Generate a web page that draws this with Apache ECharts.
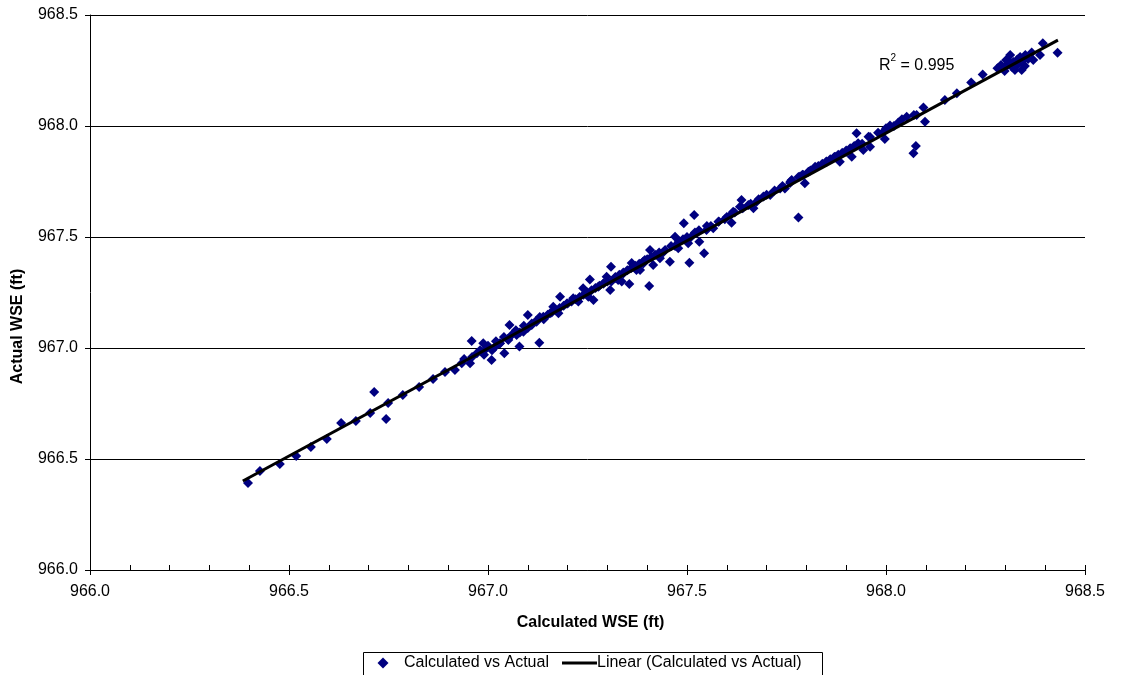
<!doctype html>
<html lang="en">
<head>
<meta charset="UTF-8">
<title>Calculated vs Actual WSE</title>
<script src="https://cdn.jsdelivr.net/npm/echarts@6/dist/echarts.min.js"></script>
<style>
  html, body { margin: 0; padding: 0; background: #fff; }
  #main { width: 1125px; height: 675px; }
</style>
</head>
<body>
<div id="main"></div>
<script type="text/javascript">
// calculated WSE (ft) - x values
var calcWSE = [
  966.397, 966.427, 966.477, 966.518, 966.555, 966.595, 966.631, 966.668, 966.704, 966.714,
  966.744, 966.749, 966.786, 966.827, 966.862, 966.892, 966.917,
  966.934, 966.955, 966.959, 966.972, 966.988, 966.992, 967.009, 967.018, 967.030, 967.041,
  967.051, 967.054, 967.072, 967.079, 967.089, 967.100, 967.110, 967.122, 967.129, 967.139,
  967.156, 967.164, 967.177, 967.181, 967.198, 967.214, 967.227, 967.239, 967.252, 967.256,
  967.265, 967.277, 967.290, 967.298, 967.307, 967.309, 967.319, 967.327, 967.336, 967.340,
  967.355, 967.361, 967.373, 967.382, 967.390, 967.394, 967.405, 967.407, 967.415, 967.432,
  967.445, 967.457, 967.470, 967.478, 967.492, 967.503, 967.506, 967.518, 967.524, 967.531,
  967.543, 967.549, 967.566, 967.579, 967.595, 967.612, 967.616, 967.633, 967.637, 967.654,
  967.667, 967.675, 967.692, 967.709, 967.734, 967.746, 967.759, 967.763, 967.780, 967.784,
  967.792, 967.796, 967.805, 967.822, 967.851, 967.872, 967.884, 967.901, 967.914, 967.926,
  967.930, 967.943, 967.956, 967.960, 967.993, 967.997, 968.010, 968.031, 968.052, 968.069,
  968.075, 968.077, 968.094, 968.098, 968.148, 968.178, 968.214, 968.243, 968.289, 968.298,
  968.312, 968.316, 968.320, 968.332, 968.341, 968.345, 968.357, 968.366, 968.370, 968.387,
  968.394, 968.431, 968.302, 968.324, 968.349, 968.306, 968.337,
  966.940, 966.960, 966.980, 966.990, 967.000, 967.010, 967.020, 967.030, 967.040, 967.050,
  967.060, 967.070, 967.080, 967.090, 967.100, 967.110, 967.120, 967.130, 967.140, 967.150,
  967.160, 967.170, 967.180, 967.190, 967.200, 967.210, 967.220, 967.230, 967.240, 967.250,
  967.260, 967.270, 967.280, 967.290, 967.300, 967.310, 967.320, 967.330, 967.340, 967.350,
  967.360, 967.370, 967.380, 967.390, 967.400, 967.410, 967.420, 967.430, 967.440, 967.460,
  967.470, 967.480, 967.490, 967.500, 967.510, 967.520, 967.530, 967.550, 967.560, 967.580,
  967.600, 967.610, 967.620, 967.640, 967.660, 967.680, 967.700, 967.720, 967.740, 967.760,
  967.780, 967.790, 967.810, 967.830, 967.840, 967.850, 967.860, 967.870, 967.880, 967.890,
  967.900, 967.910, 967.920, 967.940, 967.960, 967.980, 968.000, 968.020, 968.040, 968.070,
  968.280, 968.300, 968.310, 968.330, 968.350
];

// actual WSE (ft) - y values, same order as calcWSE
var actualWSE = [
  966.392, 966.446, 966.477, 966.514, 966.554, 966.590, 966.662, 966.671, 966.707, 966.802,
  966.680, 966.752, 966.788, 966.824, 966.860, 966.892, 966.901,
  966.931, 966.931, 967.032, 966.976, 967.021, 966.991, 966.946, 967.006, 967.021, 966.976,
  967.036, 967.104, 967.059, 967.007, 967.073, 967.149, 967.104, 967.118, 967.024, 967.141,
  967.156, 967.186, 967.156, 967.231, 967.201, 967.224, 967.209, 967.269, 967.231, 967.309,
  967.216, 967.276, 967.291, 967.321, 967.261, 967.366, 967.314, 967.306, 967.299, 967.336,
  967.288, 967.383, 967.351, 967.351, 967.381, 967.396, 967.279, 967.441, 967.374, 967.404,
  967.441, 967.389, 967.501, 967.449, 967.562, 967.472, 967.384, 967.599, 967.517, 967.479,
  967.427, 967.532, 967.539, 967.569, 967.580, 967.564, 967.614, 967.636, 967.667, 967.644,
  967.629, 967.659, 967.682, 967.689, 967.719, 967.719, 967.743, 967.757, 967.588, 967.772,
  967.779, 967.742, 967.794, 967.817, 967.839, 967.862, 967.839, 967.884, 967.862, 967.967,
  967.922, 967.892, 967.952, 967.907, 967.973, 967.941, 968.002, 968.016, 968.042, 967.877,
  967.910, 968.050, 968.083, 968.019, 968.117, 968.147, 968.196, 968.232, 968.275, 968.248,
  968.320, 968.267, 968.288, 968.279, 968.252, 968.297, 968.302, 968.331, 968.297, 968.320,
  968.373, 968.330, 968.297, 968.252, 968.270, 968.275, 968.311,
  966.950, 966.960, 966.990, 966.970, 967.010, 966.990, 967.030, 967.020, 967.050, 967.040,
  967.060, 967.080, 967.070, 967.100, 967.090, 967.110, 967.120, 967.140, 967.130, 967.150,
  967.160, 967.170, 967.180, 967.190, 967.200, 967.210, 967.220, 967.230, 967.240, 967.250,
  967.260, 967.270, 967.280, 967.290, 967.300, 967.300, 967.320, 967.330, 967.340, 967.350,
  967.360, 967.370, 967.380, 967.390, 967.400, 967.410, 967.420, 967.430, 967.430, 967.460,
  967.460, 967.480, 967.490, 967.500, 967.500, 967.520, 967.530, 967.550, 967.550, 967.570,
  967.590, 967.600, 967.610, 967.630, 967.650, 967.670, 967.690, 967.710, 967.730, 967.750,
  967.770, 967.780, 967.800, 967.820, 967.830, 967.840, 967.850, 967.860, 967.870, 967.880,
  967.890, 967.900, 967.910, 967.920, 967.950, 967.970, 967.990, 968.000, 968.030, 968.050,
  968.260, 968.270, 968.290, 968.300, 968.320
];

// linear trend line end points
var trendX = [966.384, 968.432];
var trendY = [966.401, 968.387];

var axisTicks = [966.0, 966.5, 967.0, 967.5, 968.0, 968.5];
var rSquared = '0.995';
var seriesNames = ['Calculated vs Actual', 'Linear (Calculated vs Actual)'];

var points = [];
for (var i = 0; i < calcWSE.length; i++) {
    points.push([calcWSE[i], actualWSE[i]]);
}
var trend = [[trendX[0], trendY[0]], [trendX[1], trendY[1]]];

var fontFamily = '"Liberation Sans", Arial, Helvetica, sans-serif';
var navy = '#000080';
var gridBox = { left: 90, right: 40, top: 15, bottom: 105 };

var myChart = echarts.init(document.getElementById('main'), null, { renderer: 'canvas' });

var option = {
    backgroundColor: '#ffffff',
    animation: false,
    textStyle: { fontFamily: fontFamily, color: '#000' },
    grid: [
        { left: gridBox.left, right: gridBox.right, top: gridBox.top, bottom: gridBox.bottom },
        { left: gridBox.left, right: gridBox.right, top: gridBox.top, bottom: gridBox.bottom }
    ],
    xAxis: [
        {
            type: 'value',
            gridIndex: 0,
            min: axisTicks[0],
            max: axisTicks[axisTicks.length - 1],
            interval: 0.5,
            name: 'Calculated WSE (ft)',
            nameLocation: 'middle',
            nameGap: 45,
            nameTextStyle: { fontFamily: fontFamily, fontSize: 16, fontWeight: 'bold', color: '#000', padding: [0, 0, 0, 6] },
            axisLine: { show: true, onZero: false, lineStyle: { color: '#000', width: 1 } },
            axisTick: { show: true, inside: false, length: 5, lineStyle: { color: '#000' } },
            axisLabel: {
                fontSize: 16, color: '#000', margin: 14,
                formatter: function (v) { return v.toFixed(1); }
            },
            splitLine: { show: false }
        },
        {
            // inner minor ticks, same scale on an overlaid grid
            type: 'value',
            gridIndex: 1,
            min: axisTicks[0],
            max: axisTicks[axisTicks.length - 1],
            interval: 0.5,
            axisLine: { show: false },
            axisTick: { show: true, inside: true, length: 5, lineStyle: { color: '#000' } },
            minorTick: { show: true, splitNumber: 5, length: 5, lineStyle: { color: '#000' } },
            axisLabel: { show: false },
            splitLine: { show: false }
        }
    ],
    yAxis: [
        {
            type: 'value',
            gridIndex: 0,
            min: axisTicks[0],
            max: axisTicks[axisTicks.length - 1],
            interval: 0.5,
            name: 'Actual WSE (ft)',
            nameLocation: 'middle',
            nameGap: 64,
            nameTextStyle: { fontFamily: fontFamily, fontSize: 16, fontWeight: 'bold', color: '#000', padding: [0, 68, 0, 0] },
            axisLine: { show: true, onZero: false, lineStyle: { color: '#000', width: 1 } },
            axisTick: { show: true, inside: false, length: 5, lineStyle: { color: '#000' } },
            axisLabel: {
                fontSize: 16, color: '#000', margin: 12,
                formatter: function (v) { return v.toFixed(1); }
            },
            splitLine: { show: true, lineStyle: { color: '#000', width: 1 } }
        },
        {
            type: 'value',
            gridIndex: 1,
            min: axisTicks[0],
            max: axisTicks[axisTicks.length - 1],
            show: false
        }
    ],
    graphic: [
        {
            type: 'text',
            left: 879,
            top: 53,
            style: {
                text: '{a|R}{b|2}{a| = ' + rSquared + '}',
                rich: {
                    a: { fontFamily: fontFamily, fontSize: 16, fill: '#000', color: '#000', verticalAlign: 'bottom', lineHeight: 21 },
                    b: { fontFamily: fontFamily, fontSize: 10, fill: '#000', color: '#000', verticalAlign: 'top', lineHeight: 21 }
                }
            }
        },
        // legend box (drawn by hand so the line key has no marker)
        {
            type: 'group',
            left: 363,
            top: 652,
            children: [
                { type: 'rect', shape: { x: 0.5, y: 0.5, width: 459, height: 30 }, style: { fill: '#fff', stroke: '#000', lineWidth: 1 } },
                { type: 'polygon', shape: { points: [[20, 5.5], [25.5, 11], [20, 16.5], [14.5, 11]] }, style: { fill: navy } },
                { type: 'text', x: 41, y: 11, style: { text: seriesNames[0], fontFamily: fontFamily, fontSize: 16, fill: '#000', verticalAlign: 'middle' } },
                { type: 'line', shape: { x1: 199, y1: 11, x2: 234, y2: 11 }, style: { stroke: '#000', lineWidth: 3 } },
                { type: 'text', x: 234, y: 11, style: { text: seriesNames[1], fontFamily: fontFamily, fontSize: 16, fill: '#000', verticalAlign: 'middle' } }
            ]
        }
    ],
    series: [
        {
            name: seriesNames[0],
            type: 'scatter',
            xAxisIndex: 0,
            yAxisIndex: 0,
            symbol: 'diamond',
            symbolSize: 10,
            itemStyle: { color: navy, opacity: 1 },
            z: 2,
            data: points
        },
        {
            name: seriesNames[1],
            type: 'line',
            xAxisIndex: 0,
            yAxisIndex: 0,
            symbol: 'none',
            showSymbol: false,
            lineStyle: { color: '#000', width: 3 },
            z: 3,
            data: trend
        }
    ]
};

myChart.setOption(option);
</script>
</body>
</html>
